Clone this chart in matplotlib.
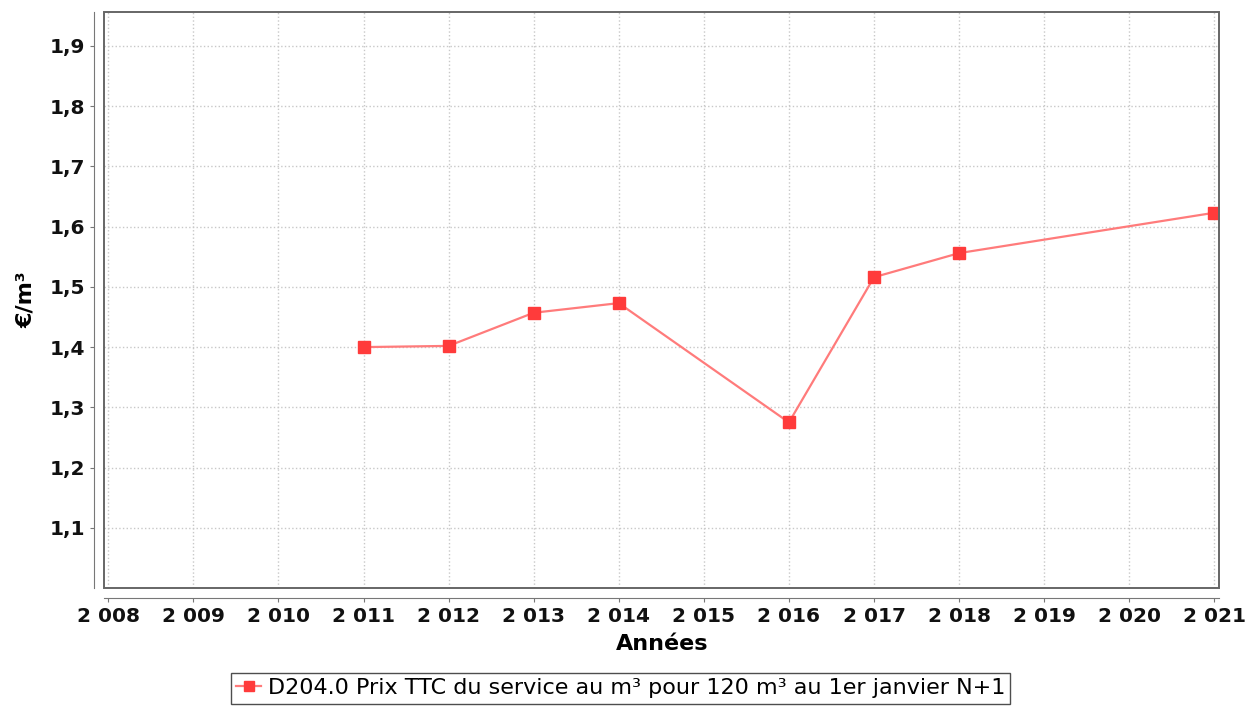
import matplotlib
matplotlib.use('Agg')
import matplotlib.pyplot as plt
from matplotlib.patches import Rectangle
from matplotlib.ticker import FuncFormatter

# Data
years = [2011, 2012, 2013, 2014, 2016, 2017, 2018, 2021]
prix = [1.400, 1.402, 1.457, 1.473, 1.275, 1.516, 1.556, 1.623]
xticks = list(range(2008, 2022))
yticks = [1.1, 1.2, 1.3, 1.4, 1.5, 1.6, 1.7, 1.8, 1.9]
series_label = 'D204.0 Prix TTC du service au m³ pour 120 m³ au 1er janvier N+1'

plt.rcParams['font.family'] = ['DejaVu Sans']

fig = plt.figure(figsize=(12.59, 7.12), dpi=100)
ax = fig.add_axes([0.0826, 0.174, 0.886, 0.809])

ax.plot(years, prix, color='#ff7b7b', linewidth=1.6, marker='s',
        markersize=9, markerfacecolor='#ff3b3b', markeredgecolor='#ff3b3b',
        label=series_label, zorder=3)

ax.set_xlim(2007.95, 2021.06)
ax.set_ylim(1.0, 1.956)
ax.set_xticks(xticks)
ax.set_yticks(yticks)
ax.xaxis.set_major_formatter(FuncFormatter(lambda v, p: f'{int(v) // 1000} {int(v) % 1000:03d}'))
ax.yaxis.set_major_formatter(FuncFormatter(lambda v, p: f'{v:.1f}'.replace('.', ',')))

ax.grid(True, color='#c8c8c8', linestyle=':', linewidth=1.0)
ax.set_axisbelow(True)

# axis lines offset from the plot frame
for side in ['top', 'right']:
    ax.spines[side].set_visible(False)
for side in ['left', 'bottom']:
    ax.spines[side].set_position(('outward', 7))
    ax.spines[side].set_color('#777777')
ax.add_patch(Rectangle((0, 0), 1, 1, transform=ax.transAxes, fill=False,
                       edgecolor='#666666', linewidth=1.4, clip_on=False, zorder=4))

ax.tick_params(axis='both', colors='#777777', length=3, labelsize=14.5,
               labelcolor='#111111')
for lbl in ax.get_xticklabels() + ax.get_yticklabels():
    lbl.set_fontweight('bold')

ax.set_xlabel('Années', fontsize=16, fontweight='bold', labelpad=6)
ax.set_ylabel('€/m³', fontsize=16, fontweight='bold', labelpad=10)

leg = fig.legend(loc='lower center', bbox_to_anchor=(0.493, -0.004), ncol=1,
                 fontsize=16, frameon=True, fancybox=False, handlelength=1.1,
                 handletextpad=0.3, borderpad=0.25, markerscale=0.75)
leg.get_frame().set_edgecolor('#222222')
leg.get_frame().set_linewidth(1.0)

fig.savefig('out.png', dpi=100)
